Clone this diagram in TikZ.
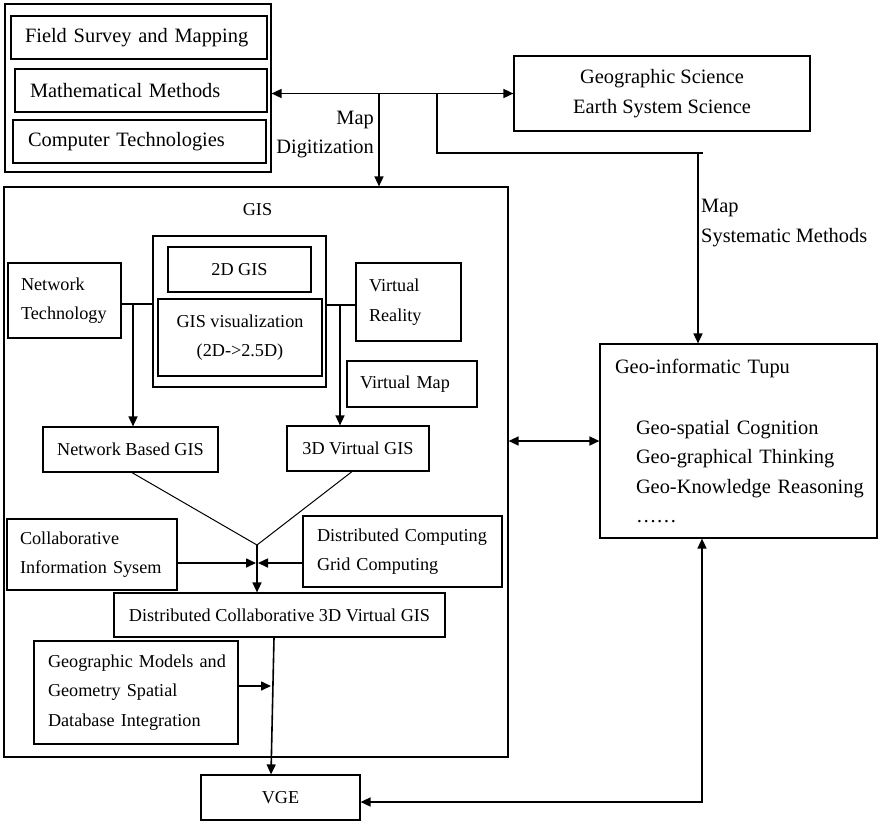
\documentclass[tikz,border=0pt]{standalone}
\usepackage{fontspec}
\setmainfont{Liberation Serif}
\usetikzlibrary{arrows.meta,calc}
\newcommand\FontBig{\fontsize{20.4pt}{29.5pt}\selectfont}
\newcommand\FontSmall{\fontsize{18.2pt}{29.5pt}\selectfont}
\begin{document}
\begin{tikzpicture}[x=1pt,y=-1pt,
  >={Triangle[length=10pt,width=9pt]},
  box/.style={draw, line width=1.2pt, inner sep=0pt, align=center},
  lbox/.style={draw, line width=1.2pt, inner ysep=0pt, align=left},
  bigtext/.style={font=\FontBig},
  smalltext/.style={font=\FontSmall},
  conn/.style={line width=1.6pt},
  thinline/.style={line width=1pt},
  lbl/.style={inner sep=0pt, font=\FontBig}]
\useasboundingbox (0,0) rectangle (878,823);

% top-left group
\node[box, minimum width=266pt, minimum height=168pt] (outer) at (138,88) {};
\node[lbox, bigtext, minimum height=43pt, inner xsep=14pt, text width=228pt] (field) at (139,37.5) {\mbox{Field Survey and Mapping}};
\node[lbox, bigtext, minimum height=43pt, inner xsep=15pt, text width=222pt] (math) at (141,90.5) {\mbox{Mathematical Methods}};
\node[lbox, bigtext, minimum height=43pt, inner xsep=15pt, text width=223pt] (comp) at (139.5,141.5) {\mbox{Computer Technologies}};

% geographic science
\node[box, bigtext, minimum width=296pt, minimum height=75pt] (geosci) at (662,93.5) {Geographic Science\\Earth System Science};

% GIS frame
\node[box, minimum width=504pt, minimum height=570pt] (gis) at (256,472) {};
\node[inner sep=0pt, smalltext] (gislabel) at (257.5,209.5) {GIS};

\node[box, minimum width=173pt, minimum height=151pt] (cont) at (239.5,311.5) {};
\node[box, smalltext, minimum width=143pt, minimum height=45pt] (g2d) at (239.5,269.5) {2D GIS};
\node[box, smalltext, minimum width=164pt, minimum height=77pt] (gisvis) at (240,337.5) {GIS visualization\\(2D->2.5D)};

\node[lbox, smalltext, minimum height=75pt, inner xsep=13pt, text width=87pt] (nettech) at (64.5,300.5) {\mbox{Network}\\\mbox{Technology}};
\node[lbox, smalltext, minimum height=78pt, inner xsep=13pt, text width=79pt] (vr) at (408.5,302) {Virtual\\Reality};
\node[lbox, smalltext, minimum height=46pt, inner xsep=13pt, text width=104pt] (vmap) at (412,384) {\mbox{Virtual Map}};

\node[box, smalltext, minimum width=175pt, minimum height=45pt] (netgis) at (130.5,449.5) {Network Based GIS};
\node[box, smalltext, minimum width=142pt, minimum height=45pt] (vgis) at (358,448.5) {3D Virtual GIS};

\node[lbox, smalltext, minimum height=71pt, inner xsep=13pt, text width=144pt] (collab) at (92,554.5) {\mbox{Collaborative}\\\mbox{Information Sysem}};
\node[lbox, smalltext, minimum height=71pt, inner xsep=14pt, text width=171pt] (dc) at (402.5,551.5) {\mbox{Distributed Computing}\\\mbox{Grid Computing}};

\node[box, smalltext, minimum width=331pt, minimum height=44pt] (dc3d) at (279.5,615) {Distributed Collaborative 3D Virtual GIS};

\node[lbox, smalltext, minimum height=103pt, inner xsep=14pt, text width=176pt] (gm) at (136,692.5) {\mbox{Geographic Models and}\\\mbox{Geometry Spatial}\\\mbox{Database Integration}};

\node[box, smalltext, minimum width=159pt, minimum height=45pt] (vge) at (280.5,797.5) {VGE};

% geo-informatic tupu
\node[lbox, bigtext, minimum height=194pt, inner xsep=15pt, text width=247pt] (geo) at (738.5,441) {\mbox{Geo-informatic Tupu}\\[31pt]\mbox{\hspace*{21pt}Geo-spatial Cognition}\\\mbox{\hspace*{21pt}Geo-graphical Thinking}\\\mbox{\hspace*{21pt}Geo-Knowledge Reasoning}\\\mbox{\hspace*{21pt}……}};

% labels
\node[lbl, anchor=east, align=right] (lblmd) at (374,134.5) {Map\\Digitization};
\node[lbl, anchor=west, align=left] (lblms) at (701,223) {Map\\Systematic Methods};

% connectors
\coordinate (j1) at (379,93.5);
\coordinate (j2) at (437,93.5);
\coordinate (j3) at (698,153);
\coordinate (j3e) at (703,153);
\draw[conn,<->] (outer.east |- geosci.west) -- (geosci.west);
\draw[conn,->] (j1) -- (j1 |- gis.north);
\draw[conn] (j2) |- (j3e);
\draw[conn,->] (j3) -- (j3 |- geo.north);

\coordinate (jn) at (133,304);
\draw[conn] (jn -| nettech.east) -- (jn -| cont.west);
\draw[conn,->] (jn) -- (jn |- netgis.north);
\coordinate (jv) at (340,305);
\draw[conn] (jv -| cont.east) -- (jv -| vr.west);
\draw[conn,->] (jv) -- (jv |- vgis.north);

\coordinate (jm) at (257,545);
\draw[thinline] ([xshift=1.5pt]netgis.south) -- (jm) -- ([xshift=-6pt]vgis.south);
\draw[conn,->] (jm) -- (jm |- dc3d.north);
\coordinate (jc) at (257,563);
\draw[conn,->] (jc -| collab.east) -- ([xshift=-1pt]jc);
\draw[conn,->] (jc -| dc.west) -- ([xshift=1pt]jc);

\draw[conn,->] ([xshift=-5.5pt]dc3d.south) -- ([xshift=-9.5pt]vge.north);
\coordinate (jg) at (271,686);
\draw[conn,->] (jg -| gm.east) -- (jg);

\draw[conn,<->] (geo.west -| gis.east) -- (geo.west);
\coordinate (jb) at (702,802);
\draw[conn,<->] (jb |- geo.south) -- (jb) -- (jb -| vge.east);
\end{tikzpicture}
\end{document}
